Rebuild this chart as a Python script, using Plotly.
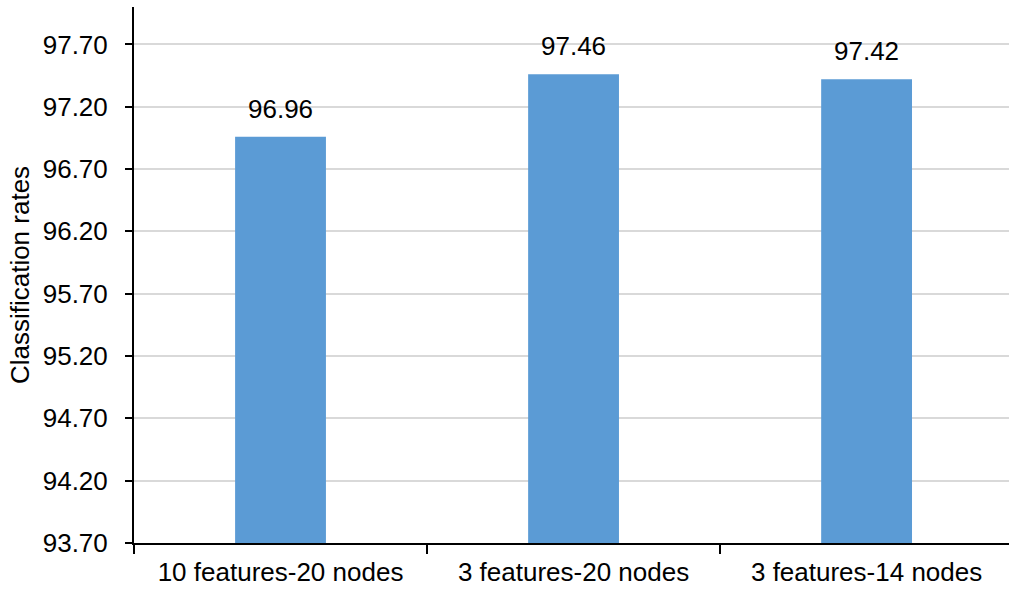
import plotly.graph_objects as go

categories = ["10 features-20 nodes", "3 features-20 nodes", "3 features-14 nodes"]
rates = [96.96, 97.46, 97.42]
y_ticks = [93.70, 94.20, 94.70, 95.20, 95.70, 96.20, 96.70, 97.20, 97.70]

FONT = "Liberation Sans, Arial, sans-serif"
SIZE = 26

fig = go.Figure()
fig.add_trace(go.Bar(
    x=categories,
    y=rates,
    width=0.31,
    marker=dict(color="#5B9BD5", line=dict(width=0)),
))

for c, v in zip(categories, rates):
    fig.add_annotation(
        x=c, y=v, text=f"{v:.2f}", showarrow=False,
        yanchor="bottom", yshift=11,
        font=dict(family=FONT, size=SIZE, color="black"),
    )

fig.update_layout(
    width=1009, height=589,
    margin=dict(l=134, r=0, t=7, b=46),
    paper_bgcolor="white", plot_bgcolor="white",
    showlegend=False,
    font=dict(family=FONT, size=SIZE, color="black"),
)
fig.update_xaxes(
    type="category",
    range=[-0.5, 2.486],
    showline=True, linecolor="black", linewidth=2,
    ticks="outside", ticklen=9, tickwidth=2, tickcolor="black",
    tickson="boundaries",
    ticklabelstandoff=5,
    showgrid=False,
    tickfont=dict(family=FONT, size=SIZE, color="black"),
)
fig.update_yaxes(
    range=[93.7, 98.0],
    tickvals=y_ticks,
    ticktext=[f"{t:.2f}" for t in y_ticks],
    showline=True, linecolor="black", linewidth=2,
    ticks="outside", ticklen=7, tickwidth=2, tickcolor="black",
    showgrid=True, gridcolor="#D9D9D9", gridwidth=2,
    zeroline=False,
    ticklabelstandoff=12,
    title=dict(text="Classification rates", standoff=6,
               font=dict(family=FONT, size=SIZE, color="black")),
    tickfont=dict(family=FONT, size=SIZE, color="black"),
)

fig.write_html("out.html")
